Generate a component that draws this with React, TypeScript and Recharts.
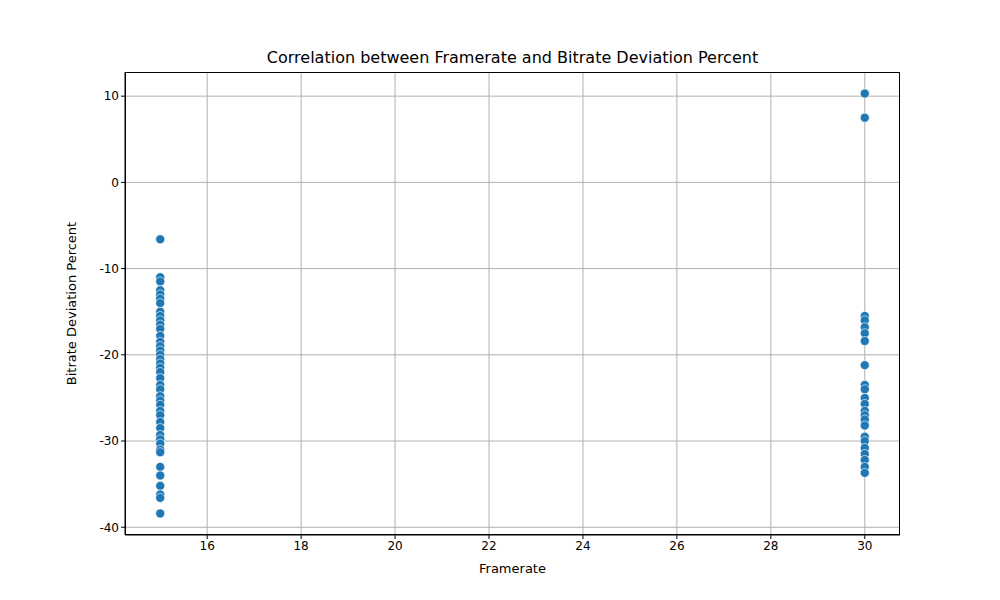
import React from 'react';
import { ScatterChart, Scatter, XAxis, YAxis, CartesianGrid } from 'recharts';

const low15 = [-6.6, -11, -11.5, -12.5, -13, -13.5, -14, -15, -15.5, -16, -16.5, -17, -17.8, -18.5, -19, -19.5, -20, -20.5, -21, -21.5, -22, -22.7, -23.5, -24, -24.8, -25.3, -25.8, -26.5, -27, -27.8, -28.5, -29.3, -29.8, -30.3, -31, -31.3, -33, -34, -35.2, -36.2, -36.6, -38.4];
const high30 = [10.3, 7.5, -15.5, -16, -16.8, -17.5, -18.4, -21.2, -23.5, -24, -25, -25.7, -26.5, -27, -27.5, -28.2, -29.5, -30, -30.8, -31.5, -32.2, -33, -33.7];
const xTicks = [16, 18, 20, 22, 24, 26, 28, 30];
const yTicks = [-40, -30, -20, -10, 0, 10];

const points = [
  ...low15.map(v => ({ fps: 15, dev: v })),
  ...high30.map(v => ({ fps: 30, dev: v })),
];

const font = 'DejaVu Sans, sans-serif';

export default function App() {
  return (
    <div style={{ position: 'relative', width: 1000, height: 600, fontFamily: font }}>
      <div style={{ position: 'absolute', top: 40, left: 117, width: 775, textAlign: 'center', fontSize: 16, color: '#000' }}>
        Correlation between Framerate and Bitrate Deviation Percent
      </div>
      <ScatterChart width={1000} height={600} margin={{ top: 64, right: 108, bottom: 0, left: 20 }}>
        <CartesianGrid stroke="#b0b0b0" horizontalValues={yTicks} verticalValues={xTicks} />
        <XAxis type="number" dataKey="fps" domain={[14.25, 30.75]} ticks={xTicks} height={73}
          stroke="#000" tick={{ fill: '#000', fontSize: 12, fontFamily: font }} tickSize={4}
          label={{ value: 'Framerate', position: 'insideTop', offset: 29, fill: '#000', fontSize: 13, fontFamily: font }} />
        <YAxis type="number" dataKey="dev" domain={[-40.9, 12.8]} ticks={yTicks} width={97}
          stroke="#000" tick={{ fill: '#000', fontSize: 12, fontFamily: font }} tickSize={4}
          label={{ value: 'Bitrate Deviation Percent', angle: -90, position: 'insideLeft', offset: 43, style: { textAnchor: 'middle' }, fill: '#000', fontSize: 13, fontFamily: font }} />
        <Scatter data={points} fill="#1f77b4" isAnimationActive={false}
          shape={(p: any) => <circle cx={p.cx} cy={p.cy} r={4.5} fill="#1f77b4" stroke="#fff" strokeWidth={0.6} />} />
      </ScatterChart>
      <div style={{ position: 'absolute', left: 117, top: 64, width: 775, height: 463, border: '1px solid #000', boxSizing: 'border-box', pointerEvents: 'none' }} />
    </div>
  );
}
